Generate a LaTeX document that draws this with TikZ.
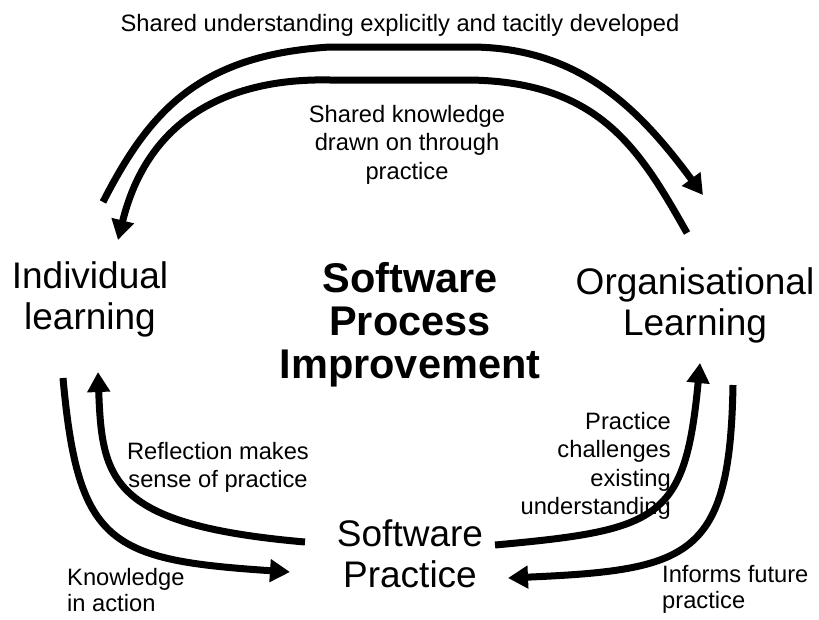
\documentclass[tikz,border=0pt]{standalone}
\usepackage{fontspec}
\setmainfont{Liberation Sans}
\usetikzlibrary{arrows.meta}

\begin{document}
\begin{tikzpicture}[x=1pt, y=-1pt,
	flow/.style={line width=7pt, -{Triangle[length=20pt, width=22pt]}},
	small/.style={inner sep=0pt, anchor=north, align=center, font=\fontsize{23.7}{28.5}\selectfont},
	big/.style={inner sep=0pt, anchor=north, align=center, font=\fontsize{37}{41}\selectfont},
	title/.style={inner sep=0pt, anchor=north, align=center, font=\fontsize{41.5}{43}\selectfont\bfseries}]

	\useasboundingbox (0,0) rectangle (819,619);

	\node[big] (indiv) at(90, 261) {Individual\\learning};
	\node[big] (org) at(695, 267) {Organisational\\Learning};
	\node[big] (practice) at(410, 520) {Software\\Practice};
	\node[title] (spi) at(410, 262) {Software\\Process\\Improvement};

	\node[small] (shared) at(400, 14) {Shared understanding explicitly and tacitly developed};
	\node[small] (drawn) at(407, 105) {Shared knowledge\\drawn on through\\practice};
	\node[small] (reflect) at(218, 442) {Reflection makes\\sense of practice};
	\node[small, anchor=north west, align=left, font=\fontsize{23.7}{26}\selectfont] (knowledge) at(67, 568) {Knowledge\\in action};
	\node[small, anchor=north east, align=right] (challenge) at(671, 412) {Practice\\challenges\\existing\\understanding};
	\node[small, anchor=north west, align=left, font=\fontsize{23.7}{26}\selectfont] (informs) at(662, 565) {Informs future\\practice};

	\coordinate (upS) at(103, 202);
	\coordinate (upE) at(703, 195);
	\coordinate (downS) at(687, 233);
	\coordinate (downE) at(118, 240);
	\coordinate (actS) at(63, 378);
	\coordinate (actE) at(290, 572);
	\coordinate (reflS) at(305, 542);
	\coordinate (reflE) at(98, 372);
	\coordinate (chalS) at(495, 545);
	\coordinate (chalE) at(700, 363);
	\coordinate (infS) at(733, 385);
	\coordinate (infE) at(508, 578);

	\draw[flow] (upS) .. controls (150,110) and (200,55) .. (330,47) -- (470,47)
		.. controls (580,47) and (640,110) .. (upE);
	\draw[flow] (downS) .. controls (640,150) and (600,82) .. (470,80) -- (330,80)
		.. controls (240,78) and (150,110) .. (downE);
	\draw[flow] (actS) .. controls (78,545) and (110,560) .. (actE);
	\draw[flow] (reflS) .. controls (110,525) and (102,480) .. (reflE);
	\draw[flow] (chalS) .. controls (660,530) and (685,520) .. (chalE);
	\draw[flow] (infS) .. controls (730,558) and (690,570) .. (infE);

\end{tikzpicture}
\end{document}
